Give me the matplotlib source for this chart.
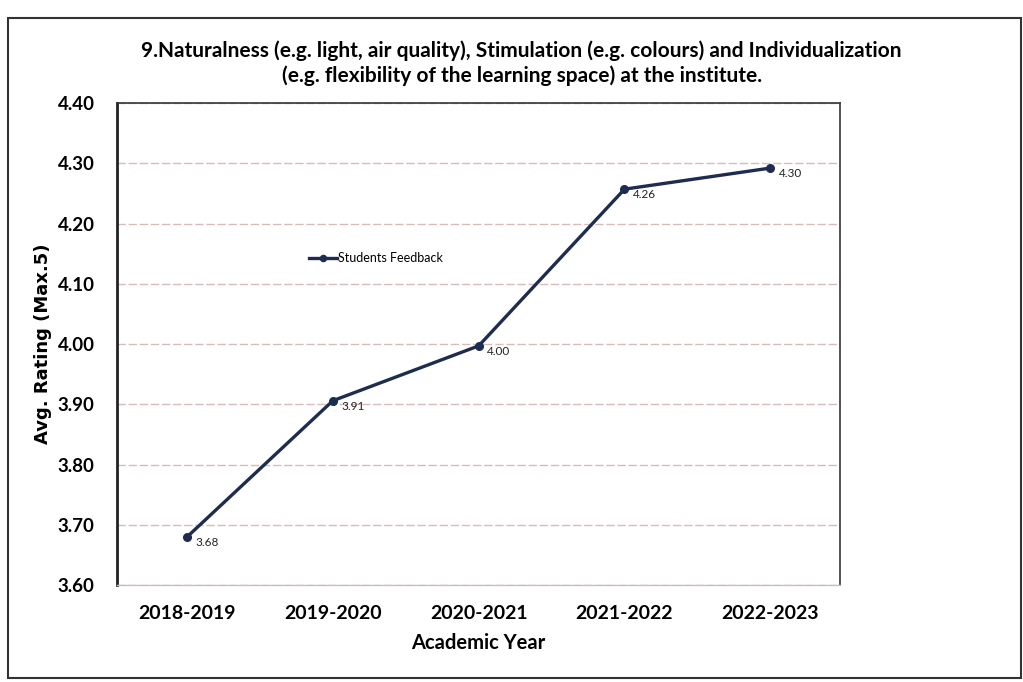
import matplotlib
matplotlib.use("Agg")
import matplotlib.pyplot as plt
from matplotlib.patches import Rectangle

years = ["2018-2019", "2019-2020", "2020-2021", "2021-2022", "2022-2023"]
ratings = [3.68, 3.906, 3.997, 4.257, 4.292]
point_labels = ["3.68", "3.91", "4.00", "4.26", "4.30"]
yticks = [3.60, 3.70, 3.80, 3.90, 4.00, 4.10, 4.20, 4.30, 4.40]

title = ("9.Naturalness (e.g. light, air quality), Stimulation (e.g. colours) and Individualization\n"
         "(e.g. flexibility of the learning space) at the institute.")

fig = plt.figure(figsize=(10.23, 6.82), dpi=100)
ax = fig.add_axes([0.1144, 0.142, 0.707, 0.707])

line_color = "#1e2d4f"
x = list(range(len(years)))
ax.plot(x, ratings, color=line_color, lw=2.4, marker="o", ms=5.5,
        label="Students Feedback")
for xi, yi, lab in zip(x, ratings, point_labels):
    ax.annotate(lab, (xi, yi), xytext=(6, -4), textcoords="offset points",
                fontsize=8.5, family="Lato", va="center", ha="left", color="#222222")

ax.set_xlim(-0.48, 4.48)
ax.set_ylim(3.60, 4.40)
ax.set_yticks(yticks)
ax.set_yticklabels([f"{t:.2f}" for t in yticks], fontsize=13.5,
                   family="Lato", fontweight="bold")
ax.set_xticks(x)
ax.set_xticklabels(years, fontsize=14, family="Lato", fontweight="bold")
ax.tick_params(axis="x", length=0, pad=14)
ax.tick_params(axis="y", length=0, pad=16)

ax.grid(axis="y", color="#d8bcbc", lw=1.0, ls=(0, (6, 2)))
ax.set_axisbelow(True)
for name, s in ax.spines.items():
    s.set_color("#333333")
    s.set_linewidth(1.2)
ax.spines["left"].set_linewidth(2.0)
ax.spines["left"].set_color("#222222")
ax.spines["bottom"].set_color("#c8c0c0")
ax.spines["bottom"].set_linewidth(1.0)

ax.set_xlabel("Academic Year", fontsize=14.5, family="Lato", fontweight="bold",
              labelpad=8)
ax.set_ylabel("Avg. Rating (Max.5)", fontsize=13, family="DejaVu Sans",
              fontweight="bold", labelpad=4)

fig.text(0.51, 0.907, title, ha="center", va="center", fontsize=15,
         family="Lato", fontweight="bold", linespacing=1.3)

leg = ax.legend(loc="center left", bbox_to_anchor=(0.25, 0.678), frameon=False,
                prop={"family": "Lato", "size": 9}, handlelength=2.2,
                handletextpad=0.1, markerscale=0.8)

fig.patches.append(Rectangle((0.008, 0.006), 0.99, 0.968, transform=fig.transFigure,
                             fill=False, edgecolor="#333333", lw=1.5))

fig.savefig("out.png", dpi=100, facecolor="white")
